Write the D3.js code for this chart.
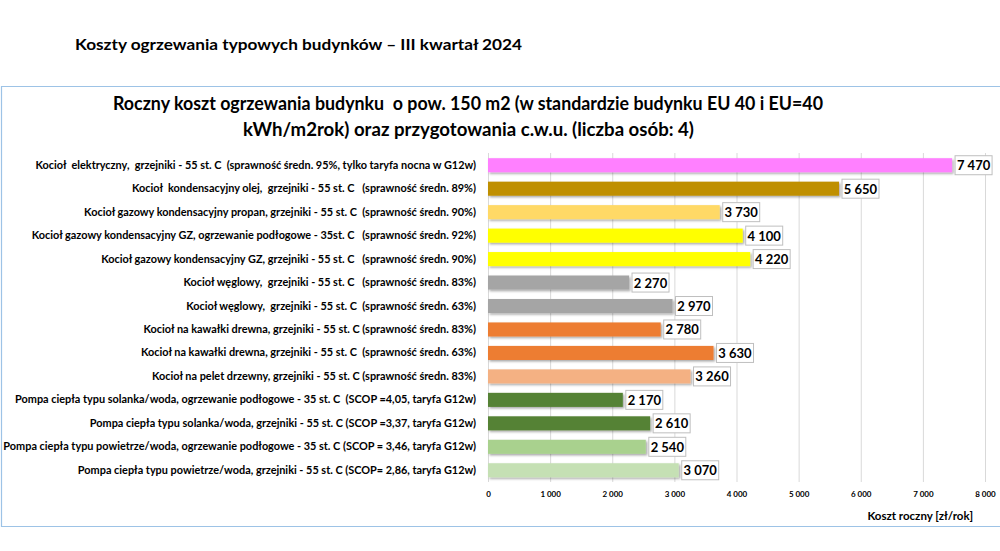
<!DOCTYPE html>
<html><head><meta charset="utf-8">
<script src="https://cdn.jsdelivr.net/npm/d3@7"></script>
<style>body{margin:0;background:#fff}svg{display:block}text{font-family:Lato,"Open Sans",sans-serif;font-weight:bold;white-space:pre}</style>
</head><body><svg id="c" width="1000" height="551"></svg>
<script>
const categories = [
 "Kocioł  elektryczny,  grzejniki - 55 st. C  (sprawność średn. 95%, tylko taryfa nocna w G12w)",
 "Kocioł  kondensacyjny olej,  grzejniki - 55 st. C   (sprawność średn. 89%)",
 "Kocioł gazowy kondensacyjny propan, grzejniki - 55 st. C  (sprawność średn. 90%)",
 "Kocioł gazowy kondensacyjny GZ, ogrzewanie podłogowe - 35st. C   (sprawność średn. 92%)",
 "Kocioł gazowy kondensacyjny GZ, grzejniki - 55 st. C   (sprawność średn. 90%)",
 "Kocioł węglowy,  grzejniki - 55 st. C   (sprawność średn. 83%)",
 "Kocioł węglowy,  grzejniki - 55 st. C  (sprawność średn. 63%)",
 "Kocioł na kawałki drewna, grzejniki - 55 st. C (sprawność średn. 83%)",
 "Kocioł na kawałki drewna, grzejniki - 55 st. C  (sprawność średn. 63%)",
 "Kocioł na pelet drzewny, grzejniki - 55 st. C (sprawność średn. 83%)",
 "Pompa ciepła typu solanka/woda, ogrzewanie podłogowe - 35 st. C  (SCOP =4,05, taryfa G12w)",
 "Pompa ciepła typu solanka/woda, grzejniki - 55 st. C (SCOP =3,37, taryfa G12w)",
 "Pompa ciepła typu powietrze/woda, ogrzewanie podłogowe - 35 st. C (SCOP = 3,46, taryfa G12w)",
 "Pompa ciepła typu powietrze/woda, grzejniki - 55 st. C (SCOP= 2,86, taryfa G12w)"
];
const values = [7470, 5650, 3730, 4100, 4220, 2270, 2970, 2780, 3630, 3260, 2170, 2610, 2540, 3070];
const colors = ["#FF80FF","#BF8F00","#FFD966","#FFFF00","#FFFF00","#A5A5A5","#A5A5A5","#ED7D31","#ED7D31","#F4B183","#548235","#548235","#A9D18E","#C5E0B4"];
const ticks = [0,1000,2000,3000,4000,5000,6000,7000,8000];
const title = "Koszty ogrzewania typowych budynków – III kwartał 2024";
const chartTitle = ["Roczny koszt ogrzewania budynku  o pow. 150 m2 (w standardzie budynku EU 40 i EU=40","kWh/m2rok) oraz przygotowania c.w.u. (liczba osób: 4)"];
const axisTitle = "Koszt roczny [zł/rok]";

const svg = d3.select("#c");
const fmtT = v => d3.format(",")(v).replace(/,/g, " ");

// Outer title
svg.append("text").attr("x",75).attr("y",50).attr("font-size",15.5).attr("fill","#000")
  .attr("textLength",447).attr("lengthAdjust","spacingAndGlyphs").text(title);

// chart area frame
svg.append("path").attr("d","M1000,86.5 H1.5 V526.5 H1000").attr("fill","none").attr("stroke","#9DC3E6").attr("stroke-width",1.2);

// chart title
svg.append("text").attr("x",113).attr("y",110).attr("font-size",18.5).attr("textLength",710).attr("lengthAdjust","spacingAndGlyphs").text(chartTitle[0]);
svg.append("text").attr("x",243).attr("y",136).attr("font-size",18.5).attr("textLength",451).attr("lengthAdjust","spacingAndGlyphs").text(chartTitle[1]);

const x = d3.scaleLinear().domain([0,8000]).range([488,985]);
const y = d3.scaleBand().domain(d3.range(categories.length)).range([153.5,482]).paddingInner(0.4).paddingOuter(0.2);

// gridlines
svg.append("g").selectAll("line").data(ticks).join("line")
  .attr("x1",d=>x(d)+0.5).attr("x2",d=>x(d)+0.5).attr("y1",153).attr("y2",482)
  .attr("stroke","#D9D9D9").attr("stroke-width",1);

// axis tick labels
const ax = svg.append("g").attr("transform","translate(0,482)").call(d3.axisBottom(x).tickValues(ticks).tickFormat(fmtT).tickSize(0).tickPadding(9));
ax.select(".domain").remove();
ax.selectAll("text").attr("font-size",8).attr("font-family","Lato, sans-serif").attr("font-weight","bold").attr("fill","#000");

// axis title
svg.append("text").attr("x",973).attr("y",520).attr("text-anchor","end").attr("font-size",11.5).text(axisTitle);

// category labels
const yl = d3.axisLeft(y).tickFormat(i=>categories[i]).tickSize(0).tickPadding(12);
const gl = svg.append("g").attr("transform","translate(488,0)").call(yl);
gl.select(".domain").remove();
gl.selectAll("text").attr("font-size",10.9).attr("font-family","Lato, sans-serif").attr("font-weight","bold").attr("fill","#000").style("white-space","pre");

// shadow filter
const defs = svg.append("defs");
const f = defs.append("filter").attr("id","sh").attr("x","-5%").attr("y","-30%").attr("width","110%").attr("height","170%");
f.append("feDropShadow").attr("dx",1.5).attr("dy",1.5).attr("stdDeviation",0.8).attr("flood-color","#000").attr("flood-opacity",0.35);

// bars
svg.append("g").selectAll("rect").data(values).join("rect")
  .attr("x",x(0)).attr("y",(d,i)=>y(i)).attr("width",d=>x(d)-x(0)).attr("height",y.bandwidth())
  .attr("fill",(d,i)=>colors[i]).attr("filter","url(#sh)");

// value labels
const lab = svg.append("g").selectAll("g").data(values).join("g")
  .attr("transform",(d,i)=>`translate(${x(d)+3},${y(i)+y.bandwidth()/2})`);
lab.append("rect").attr("x",0).attr("y",-9.5).attr("width",37).attr("height",19)
  .attr("fill","#fff").attr("stroke","#BFBFBF").attr("stroke-width",1);
lab.append("text").attr("x",18.5).attr("y",5).attr("text-anchor","middle").attr("font-size",13).text(d=>fmtT(d));
</script></body></html>
